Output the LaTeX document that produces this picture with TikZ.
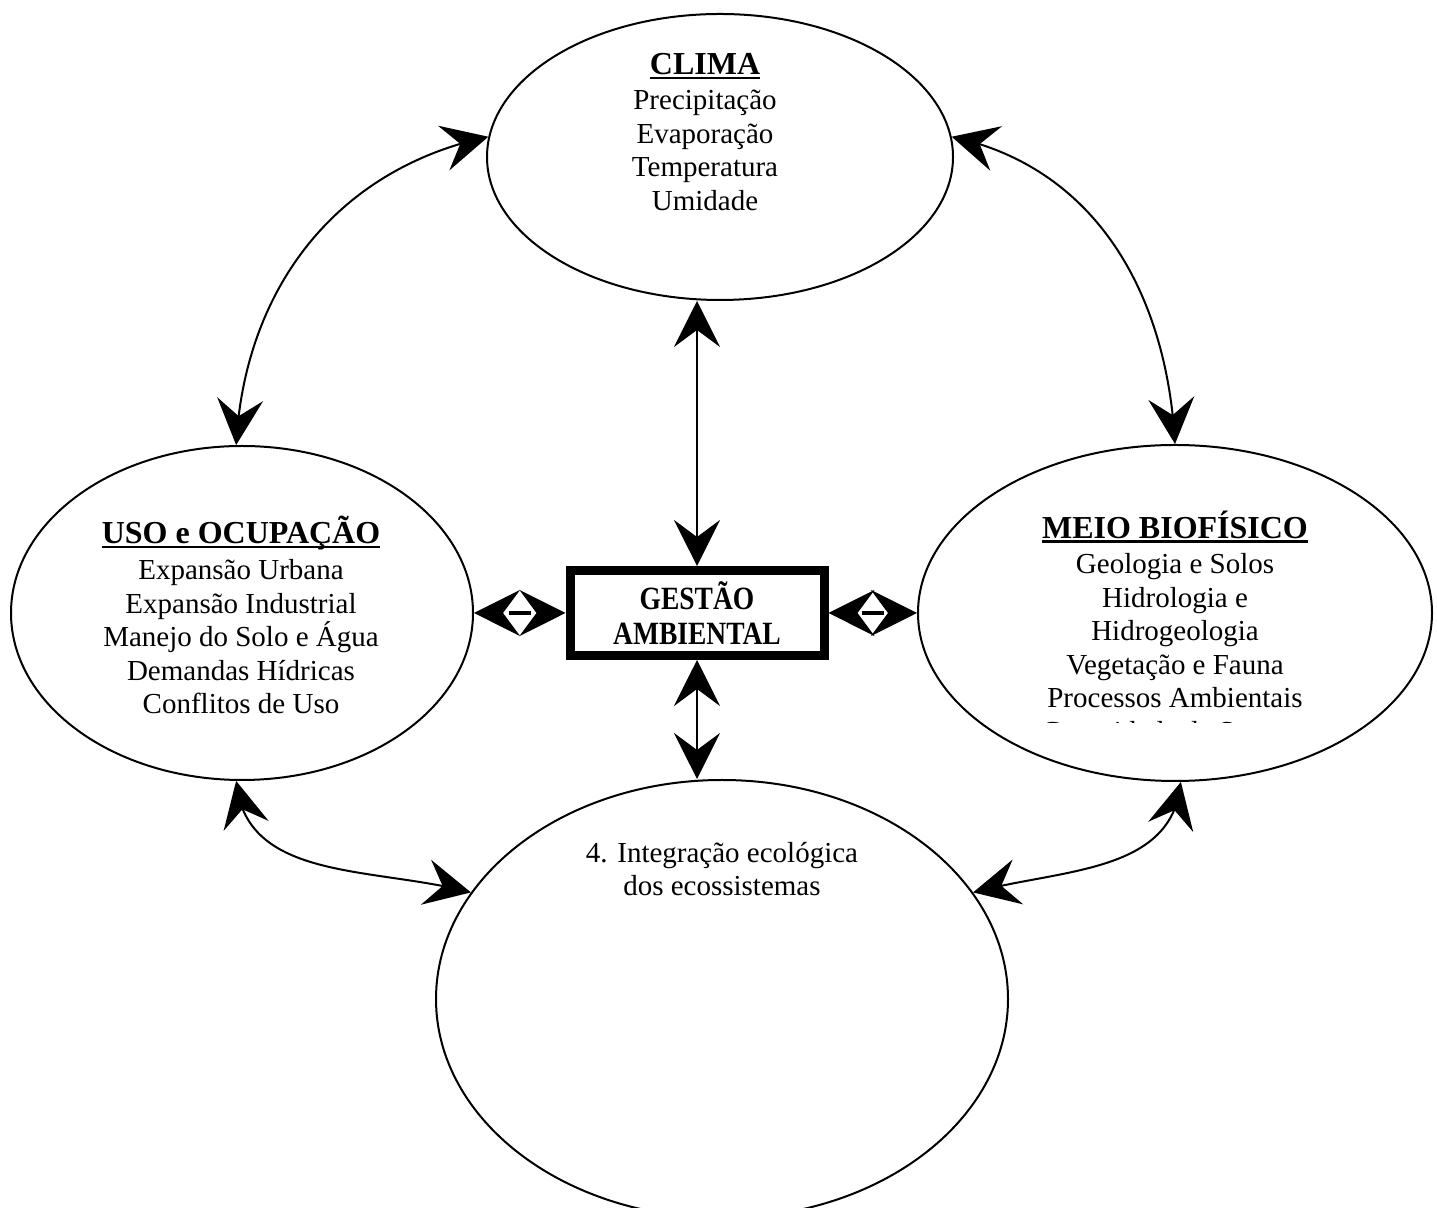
\documentclass[tikz,border=0pt]{standalone}
\usepackage{fontspec}
\usepackage{graphicx}
\setmainfont{Liberation Serif}
\usetikzlibrary{arrows.meta,bending,calc,shapes.geometric}
\newcommand\myul[1]{\setbox0=\hbox{#1}\rlap{\rule[-4.5pt]{\wd0}{2.2pt}}\box0}
\newcommand\hdr[1]{{\bfseries\fontsize{32}{33.5}\selectfont\myul{#1}}}
\begin{document}
\begin{tikzpicture}[x=1pt,y=1pt,
  ell/.style={ellipse, draw, line width=2pt, inner sep=0pt},
  body/.style={align=center, font=\fontsize{29}{33.5}\selectfont, inner sep=0pt},
  >={Stealth[length=46pt,width=46pt,inset=17pt]},
  dbl/.style={<->, line width=2pt},
  vdbl/.style={<->, line width=2.6pt},
  shortdbl/.style={draw=white, line width=2pt,
    {Stealth[length=46pt,width=46pt,inset=17pt,color=black]}-{Stealth[length=46pt,width=46pt,inset=17pt,color=black]}},
  midbar/.style={line width=4pt}
  ]
\useasboundingbox (0,0) rectangle (1437,1207);
\clip (0,0) rectangle (1437,1207);

% ellipses
\node[ell, minimum width=466pt, minimum height=286pt] (clima) at (720,1050) {};
\node[ell, minimum width=462pt, minimum height=334pt] (uso) at (242,594) {};
\node[ell, minimum width=514pt, minimum height=336pt] (meio) at (1175,594) {};
\node[ell, minimum width=572pt, minimum height=438pt] (integ) at (722,208) {};

% central box
\node[draw, line width=9pt, minimum width=254pt, minimum height=85pt, inner sep=0pt,
      align=center, font=\bfseries\fontsize{27.5}{35}\selectfont] (gestao) at (697,594)
      {\scalebox{1}[1.18]{GESTÃO}\\\scalebox{1}[1.18]{AMBIENTAL}};

% texts
\node[body] (climatxt) at (705,1075)
  {\hdr{CLIMA}\\[2pt]Precipitação\\Evaporação\\Temperatura\\Umidade};
\node[body] (usotxt) at (241,592)
  {\hdr{USO e OCUPAÇÃO}\\[3pt]Expansão Urbana\\Expansão Industrial\\Manejo do Solo e Água\\Demandas Hídricas\\Conflitos de Uso};
\begin{scope}
  \clip (900,484) rectangle (1437,800);
  \node[body] (meiotxt) at (1175,578)
    {\hdr{MEIO BIOFÍSICO}\\[2pt]Geologia e Solos\\Hidrologia e\\Hidrogeologia\\Vegetação e Fauna\\Processos Ambientais\\Capacidade de Suporte};
\end{scope}
\node[body] (integtxt) at (722,338)
  {4. Integração ecológica\\dos ecossistemas};

% curved connectors
\draw[dbl] (uso.92) to[out=87,in=192] (clima.175);
\draw[dbl] (clima.5) to[out=-12,in=93] (meio.90);
\draw[dbl] (uso.268) to[out=-85,in=165] (integ.157);
\draw[dbl] (meio.272) to[out=-95,in=15] (integ.23);

% vertical connectors
\draw[vdbl] (gestao.north) -- (gestao.north |- clima.south);
\draw[vdbl] (gestao.south) -- (gestao.south |- integ.north);

% short horizontal connectors
\draw[shortdbl] (uso.east) -- (gestao.west);
\draw[shortdbl] (gestao.east) -- (meio.west);
\coordinate (lm) at ($(uso.east)!0.5!(gestao.west)$);
\coordinate (rm) at ($(gestao.east)!0.5!(meio.west)$);
\draw[midbar] (lm) ++(-11,0) -- ++(22,0);
\draw[midbar] (rm) ++(-11,0) -- ++(22,0);
\end{tikzpicture}
\end{document}
